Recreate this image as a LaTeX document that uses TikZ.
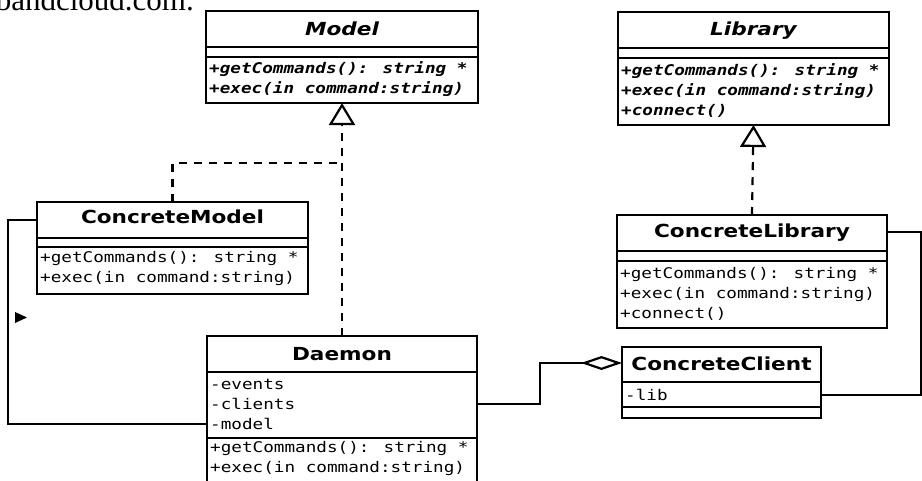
\documentclass[tikz,border=0pt]{standalone}
\usepackage{fontspec}
\setmainfont{Liberation Serif}
\newfontfamily\titlefont[FakeStretch=1.2]{DejaVu Sans}
\newfontfamily\codefont[FakeStretch=1.2]{DejaVu Sans Mono}
\usetikzlibrary{arrows.meta}
\tikzset{
  classbox/.style={draw, line width=2.6pt, inner sep=0pt, outer sep=0pt},
  sepline/.style={line width=2.6pt},
  title/.style={anchor=base, inner sep=0pt, font=\titlefont\bfseries\fontsize{18pt}{20pt}\selectfont},
  atitle/.style={title, font=\titlefont\bfseries\itshape\fontsize{18pt}{20pt}\selectfont},
  member/.style={anchor=base west, inner sep=0pt, font=\codefont\fontsize{14.7pt}{18pt}\selectfont},
  amember/.style={member, font=\codefont\bfseries\itshape\fontsize{14.7pt}{18pt}\selectfont},
  conn/.style={line width=2.2pt},
  dashconn/.style={conn, dash pattern=on 8pt off 7pt},
  realize/.style={-{Triangle[open, length=22pt, width=26pt]}},
  aggr/.style={-{Diamond[open, length=41pt, width=14pt]}},
}
\begin{document}
\begin{tikzpicture}[x=1pt, y=-1pt]
\useasboundingbox (0,0) rectangle (922,480);
\clip (0,0) rectangle (922,480);
\fill[white] (0,0) rectangle (922,480);

% cut-off caption text at top (only its lower part shows)
\node[anchor=base east, inner sep=0pt, font=\fontsize{31pt}{32pt}\selectfont] (cap) at (194,10) {bandcloud.com.};

% Model
\node[classbox, minimum width=272pt, minimum height=92pt] (model) at (342,57) {};
\draw[sepline] (model.west |- 0,47) -- (model.east |- 0,47);
\draw[sepline] (model.west |- 0,57) -- (model.east |- 0,57);
\node[atitle] (model-t) at (342,35) {Model};
\node[amember] (model-m1) at (209,73) {+getCommands(): string *};
\node[amember] (model-m2) at (209,93) {+exec(in command:string)};

% Library
\node[classbox, minimum width=271pt, minimum height=113pt] (lib) at (753.5,68.5) {};
\draw[sepline] (lib.west |- 0,48) -- (lib.east |- 0,48);
\draw[sepline] (lib.west |- 0,58) -- (lib.east |- 0,58);
\node[atitle] (lib-t) at (753.5,35) {Library};
\node[amember] (lib-m1) at (621,75) {+getCommands(): string *};
\node[amember] (lib-m2) at (621,95) {+exec(in command:string)};
\node[amember] (lib-m3) at (621,115) {+connect()};

% ConcreteModel
\node[classbox, minimum width=271pt, minimum height=92pt] (cmodel) at (172.5,248) {};
\draw[sepline] (cmodel.west |- 0,238) -- (cmodel.east |- 0,238);
\draw[sepline] (cmodel.west |- 0,247) -- (cmodel.east |- 0,247);
\node[title] (cmodel-t) at (172.5,223) {ConcreteModel};
\node[member] (cmodel-m1) at (40,262) {+getCommands(): string *};
\node[member] (cmodel-m2) at (40,282) {+exec(in command:string)};

% ConcreteLibrary
\node[classbox, minimum width=270pt, minimum height=113pt] (clib) at (752,271.5) {};
\draw[sepline] (clib.west |- 0,251) -- (clib.east |- 0,251);
\draw[sepline] (clib.west |- 0,261) -- (clib.east |- 0,261);
\node[title] (clib-t) at (752,237) {ConcreteLibrary};
\node[member] (clib-m1) at (620,278) {+getCommands(): string *};
\node[member] (clib-m2) at (620,298) {+exec(in command:string)};
\node[member] (clib-m3) at (620,318) {+connect()};

% Daemon
\node[classbox, minimum width=270pt, minimum height=154pt] (daemon) at (342,413) {};
\draw[sepline] (daemon.west |- 0,372) -- (daemon.east |- 0,372);
\draw[sepline] (daemon.west |- 0,438) -- (daemon.east |- 0,438);
\node[title] (daemon-t) at (342,360) {Daemon};
\node[member] (daemon-a1) at (210,389) {-events};
\node[member] (daemon-a2) at (210,409) {-clients};
\node[member] (daemon-a3) at (210,429) {-model};
\node[member] (daemon-m1) at (210,452) {+getCommands(): string *};
\node[member] (daemon-m2) at (210,472) {+exec(in command:string)};

% ConcreteClient
\node[classbox, minimum width=199pt, minimum height=71pt] (client) at (721.5,382.5) {};
\draw[sepline] (client.west |- 0,382) -- (client.east |- 0,382);
\draw[sepline] (client.west |- 0,407) -- (client.east |- 0,407);
\node[title] (client-t) at (721.5,370) {ConcreteClient};
\node[member] (client-a1) at (625,400) {-lib};

% connectors
\coordinate (j1) at (342,163);
\draw[dashconn, realize] (daemon.north) -- (model.south);
\draw[dashconn] (cmodel.north) -- (cmodel.north |- j1) -- (j1);
\draw[dashconn, realize] (clib.north) -- (lib.south);

\coordinate (l1) at (8,220);
\coordinate (l2) at (8,424);
\draw[conn] (cmodel.west |- l1) -- (l1) -- (l2) -- (daemon.west |- l2);
\fill (15,312) -- (27,317.5) -- (15,323) -- cycle;

\coordinate (d1) at (540,404);
\coordinate (d2) at (540,363);
\draw[conn, aggr] (daemon.east |- d1) -- (d1) -- (d2) -- (client.west |- d2);

\coordinate (r1) at (921,395);
\coordinate (r2) at (921,232);
\draw[conn] (client.east |- r1) -- (r1) -- (r2) -- (clib.east |- r2);
\end{tikzpicture}
\end{document}
